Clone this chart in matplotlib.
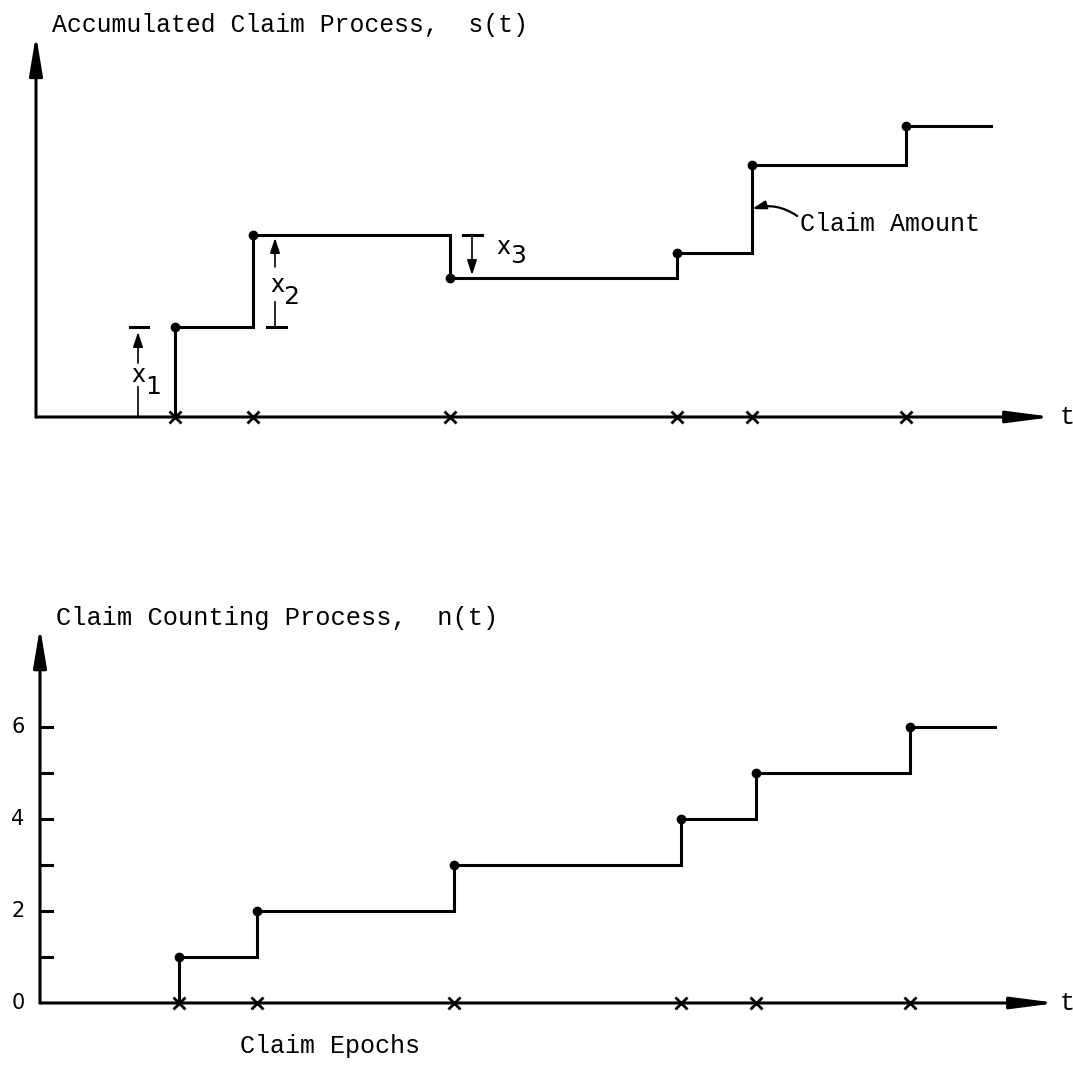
import numpy as np
import matplotlib
matplotlib.use("Agg")
import matplotlib.pyplot as plt

# claim epochs (arbitrary time units) and process levels
epochs = [1.39, 2.17, 4.14, 6.41, 7.16, 8.70]
s_levels = [0.90, 1.82, 1.39, 1.64, 2.52, 2.91]
n_levels = [1, 2, 3, 4, 5, 6]
t_end = 9.55
n_ticks = [1, 2, 3, 4, 5, 6]
n_ticklabels = ["0", "2", "4", "6"]
n_ticklabel_pos = [0, 2, 4, 6]

MONO = "Liberation Mono"
SANS = "DejaVu Sans"
LW = 2.2

fig = plt.figure(figsize=(10.73, 10.65), dpi=100)


def step_path(ax, levels):
    xs = [epochs[0]] + epochs + [t_end]
    ys = [0] + levels + [levels[-1]]
    ax.step(xs, ys, where="post", color="k", lw=LW, solid_joinstyle="miter")
    ax.plot(epochs, levels, "o", color="k", ms=6)
    ax.plot(epochs, np.zeros(len(epochs)), "x", color="k", ms=8, mew=2)


def axes_arrows(ax, ytop, xtip=10.17):
    ax.annotate("", xy=(0, ytop), xytext=(0, 0),
                arrowprops=dict(arrowstyle="-|>,head_length=2.4,head_width=0.4",
                                lw=LW, color="k", mutation_scale=10,
                                shrinkA=0, shrinkB=0))
    ax.annotate("", xy=(xtip, 0), xytext=(0, 0),
                arrowprops=dict(arrowstyle="-|>,head_length=2.7,head_width=0.35",
                                lw=LW, color="k", mutation_scale=10,
                                shrinkA=0, shrinkB=0))


def sub_label(ax, xy, sub_xy, digit):
    ax.text(*xy, "x", family=SANS, fontsize=17, ha="center", va="center")
    ax.text(*sub_xy, digit, family=SANS, fontsize=18, ha="center", va="center")


# %% top panel: accumulated claim process
ax = fig.add_axes([0, (1065 - 480) / 1065, 1, 480 / 1065])
ax.set_xlim(-0.36, 10.37)
ax.set_ylim(-0.63, 4.17)
ax.axis("off")

axes_arrows(ax, 3.82)
step_path(ax, s_levels)
ax.text(10.24, 0, "t", family=MONO, fontsize=18, va="center", ha="left")
ax.text(0.16, 3.92, "Accumulated Claim Process,  s(t)", family=MONO,
        fontsize=17.8, va="center", ha="left")

# x1 marker
ax.plot([0.94, 1.12], [s_levels[0], s_levels[0]], color="k", lw=LW)
ax.annotate("", xy=(1.02, s_levels[0] - 0.05), xytext=(1.02, 0.54),
            arrowprops=dict(arrowstyle="-|>,head_length=0.9,head_width=0.3",
                            lw=1.2, color="k", mutation_scale=10, shrinkA=0, shrinkB=0))
ax.plot([1.02, 1.02], [0, 0.30], color="k", lw=1.2)
sub_label(ax, (1.02, 0.42), (1.17, 0.30), "1")

# x2 marker
ax.plot([2.31, 2.50], [s_levels[0], s_levels[0]], color="k", lw=LW)
ax.annotate("", xy=(2.39, s_levels[1] - 0.03), xytext=(2.39, 1.50),
            arrowprops=dict(arrowstyle="-|>,head_length=0.9,head_width=0.3",
                            lw=1.2, color="k", mutation_scale=10, shrinkA=0, shrinkB=0))
ax.plot([2.39, 2.39], [s_levels[0], 1.15], color="k", lw=1.2)
sub_label(ax, (2.41, 1.32), (2.55, 1.20), "2")

# x3 marker
ax.plot([4.27, 4.46], [s_levels[1], s_levels[1]], color="k", lw=LW)
ax.annotate("", xy=(4.36, s_levels[2] + 0.03), xytext=(4.36, s_levels[1]),
            arrowprops=dict(arrowstyle="-|>,head_length=0.9,head_width=0.3",
                            lw=1.2, color="k", mutation_scale=10, shrinkA=0, shrinkB=0))
sub_label(ax, (4.67, 1.70), (4.82, 1.61), "3")

# claim amount label
ax.annotate("Claim Amount", xy=(epochs[4], 2.08), xytext=(7.64, 1.93),
            family=MONO, fontsize=18, va="center", ha="left",
            arrowprops=dict(arrowstyle="-|>,head_length=0.8,head_width=0.25",
                            lw=1.6, color="k", mutation_scale=10,
                            connectionstyle="arc3,rad=0.25",
                            relpos=(0, 0.75), shrinkA=0, shrinkB=0))

# %% bottom panel: claim counting process
ax2 = fig.add_axes([0, 0, 1, 505 / 1065])
ax2.set_xlim(-0.40, 10.33)
ax2.set_ylim(-1.348, 9.63)
ax2.axis("off")

axes_arrows(ax2, 8.17)
step_path(ax2, n_levels)
for v in n_ticks:
    ax2.plot([0, 0.12], [v, v], color="k", lw=LW)
for v, lab in zip(n_ticklabel_pos, n_ticklabels):
    ax2.text(-0.22, v, lab, family=SANS, fontsize=15, ha="center", va="center")
ax2.text(10.20, 0, "t", family=MONO, fontsize=18, va="center", ha="left")
ax2.text(0.16, 8.37, "Claim Counting Process,  n(t)", family=MONO,
         fontsize=18.3, va="center", ha="left")
ax2.text(2.90, -0.93, "Claim Epochs", family=MONO, fontsize=18,
         va="center", ha="center")

fig.savefig("out.png", dpi=100)
